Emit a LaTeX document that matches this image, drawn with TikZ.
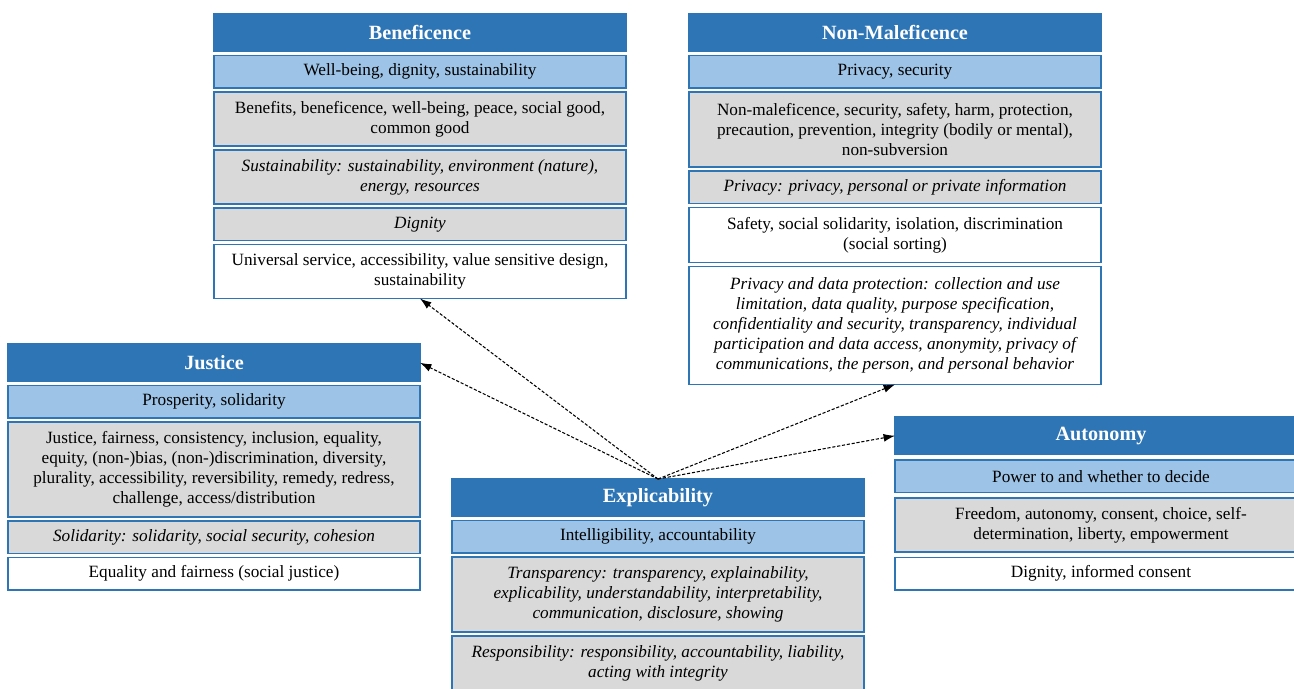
\documentclass[tikz,border=0pt]{standalone}
\usepackage{fontspec}
\setmainfont{Liberation Serif}
\usepackage{tikz}
\usetikzlibrary{arrows.meta, positioning}
\definecolor{hdrblue}{HTML}{2E75B6}
\definecolor{subblue}{HTML}{9DC3E6}
\definecolor{rowgray}{HTML}{D9D9D9}

\begin{document}
\begin{tikzpicture}[
    header/.style={rectangle, draw=hdrblue, line width=0.8pt, fill=hdrblue, text=white, minimum width=8.24cm, minimum height=0.75cm, outer sep=0pt, font=\fontsize{11.5}{13}\selectfont\bfseries},
    keyrow/.style={rectangle, draw=hdrblue, line width=0.8pt, fill=subblue, minimum width=8.24cm, minimum height=0.65cm, outer sep=0pt, align=center, font=\fontsize{9.8}{11.4}\selectfont},
    grayrow/.style={keyrow, fill=rowgray},
    whiterow/.style={keyrow, fill=white},
    arrow/.style={-{Latex[length=6.5pt, width=4.5pt]}, semithick, dash pattern=on 1.8pt off 1pt}
]
    \path [use as bounding box, fill=white] (0,0) rectangle (25.88,-13.76);
    \clip (0,0) rectangle (25.88,-13.76);

    % Beneficence
    \node [header, anchor=north west] (benef) at (4.28,-0.28) {Beneficence};
    \node [keyrow, below=0.08cm of benef] (benef1) {Well-being, dignity, sustainability};
    \node [grayrow, minimum height=1.08cm, below=0.08cm of benef1] (benef2) {Benefits, beneficence, well-being, peace, social good,\\ common good};
    \node [grayrow, minimum height=1.08cm, below=0.08cm of benef2, font=\fontsize{9.8}{11.4}\selectfont\itshape] (benef3) {Sustainability: sustainability, environment (nature),\\ energy, resources};
    \node [grayrow, below=0.08cm of benef3, font=\fontsize{9.8}{11.4}\selectfont\itshape] (benef4) {Dignity};
    \node [whiterow, minimum height=1.08cm, below=0.08cm of benef4] (benef5) {Universal service, accessibility, value sensitive design,\\ sustainability};

    % Non-Maleficence
    \node [header, anchor=north west] (nonmal) at (13.78,-0.28) {Non-Maleficence};
    \node [keyrow, below=0.08cm of nonmal] (nonmal1) {Privacy, security};
    \node [grayrow, minimum height=1.5cm, below=0.08cm of nonmal1] (nonmal2) {Non-maleficence, security, safety, harm, protection,\\ precaution, prevention, integrity (bodily or mental),\\ non-subversion};
    \node [grayrow, below=0.08cm of nonmal2, font=\fontsize{9.8}{11.4}\selectfont\itshape] (nonmal3) {Privacy: privacy, personal or private information};
    \node [whiterow, minimum height=1.1cm, below=0.08cm of nonmal3] (nonmal4) {Safety, social solidarity, isolation, discrimination\\ (social sorting)};
    \node [whiterow, minimum height=2.36cm, below=0.08cm of nonmal4, font=\fontsize{9.8}{11.4}\selectfont\itshape] (nonmal5) {Privacy and data protection: collection and use\\ limitation, data quality, purpose specification,\\ confidentiality and security, transparency, individual\\ participation and data access, anonymity, privacy of\\ communications, the person, and personal behavior};

    % Justice
    \node [header, anchor=north west] (justice) at (0.16,-6.88) {Justice};
    \node [keyrow, below=0.08cm of justice] (justice1) {Prosperity, solidarity};
    \node [grayrow, minimum height=1.9cm, below=0.08cm of justice1] (justice2) {Justice, fairness, consistency, inclusion, equality,\\ equity, (non-)bias, (non-)discrimination, diversity,\\ plurality, accessibility, reversibility, remedy, redress,\\ challenge, access/distribution};
    \node [grayrow, below=0.08cm of justice2, font=\fontsize{9.8}{11.4}\selectfont\itshape] (justice3) {Solidarity: solidarity, social security, cohesion};
    \node [whiterow, below=0.08cm of justice3] (justice4) {Equality and fairness (social justice)};

    % Explicability
    \node [header, anchor=north west] (explic) at (9.04,-9.58) {Explicability};
    \node [keyrow, below=0.08cm of explic] (explic1) {Intelligibility, accountability};
    \node [grayrow, minimum height=1.5cm, below=0.08cm of explic1, font=\fontsize{9.8}{11.4}\selectfont\itshape] (explic2) {Transparency: transparency, explainability,\\ explicability, understandability, interpretability,\\ communication, disclosure, showing};
    \node [grayrow, minimum height=1.08cm, below=0.08cm of explic2, font=\fontsize{9.8}{11.4}\selectfont\itshape] (explic3) {Responsibility: responsibility, accountability, liability,\\ acting with integrity};

    % Autonomy
    \node [header, anchor=north west] (auton) at (17.90,-8.34) {Autonomy};
    \node [keyrow, below=0.11cm of auton] (auton1) {Power to and whether to decide};
    \node [grayrow, minimum height=1.08cm, below=0.11cm of auton1] (auton2) {Freedom, autonomy, consent, choice, self-\\ determination, liberty, empowerment};
    \node [whiterow, below=0.11cm of auton2] (auton3) {Dignity, informed consent};

    % Connections
    \draw [arrow] (explic.north) -- (benef5.south);
    \draw [arrow] (explic.north) -- (justice.east);
    \draw [arrow] (explic.north) -- (nonmal5.south);
    \draw [arrow] (explic.north) -- (auton.west);
\end{tikzpicture}
\end{document}
